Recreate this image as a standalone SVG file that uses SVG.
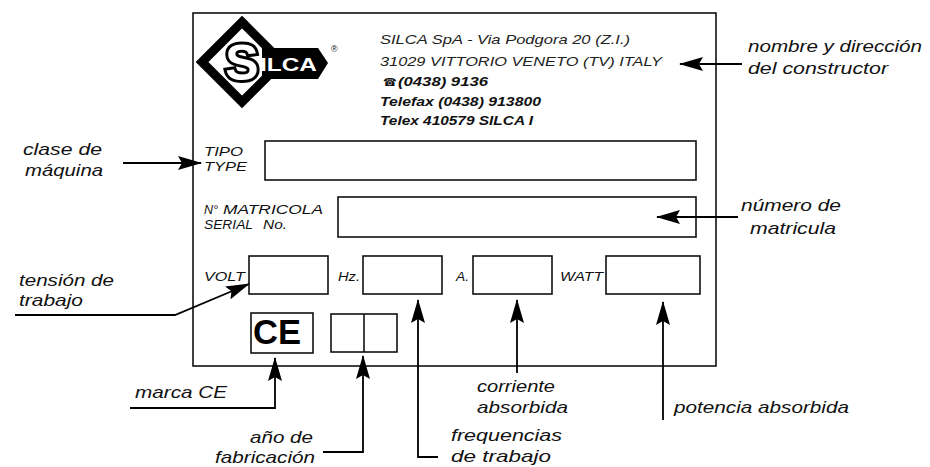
<svg xmlns="http://www.w3.org/2000/svg" width="930" height="467" viewBox="0 0 930 467">
<style>
text{font-family:"Liberation Sans",Arial,sans-serif;font-style:italic;fill:#111}
.lbl{font-size:17px}
.sm{font-size:12.5px}
.hd{font-size:13.5px}
.b{font-weight:bold}
.box{fill:none;stroke:#111;stroke-width:1.6}
.con{fill:none;stroke:#000;stroke-width:1.8}
</style>
<defs>
<marker id="ah" viewBox="0 0 24 14" refX="23" refY="7" markerWidth="24" markerHeight="14" markerUnits="userSpaceOnUse" orient="auto">
<path d="M0,0 L24,7 L0,14 L4,7 Z" fill="#000"/>
</marker>
</defs>
<rect width="930" height="467" fill="#fff"/>

<g id="plate">
<rect class="box" x="193" y="13" width="523" height="353"/>
</g>

<g id="logo">
<path d="M242,22 L282,62 L242,102 L202,62 Z" fill="#fff" stroke="#000" stroke-width="9" stroke-linejoin="miter"/>
<path d="M262,48 L318,48 L328,63 L318,79 L262,79 Z" fill="#000"/>
<text x="242" y="80" text-anchor="middle" style="font-style:normal;font-weight:bold;font-size:50px;fill:#fff;stroke:#000;stroke-width:6;paint-order:stroke">S</text>
<text x="260" y="71" textLength="57" lengthAdjust="spacingAndGlyphs" style="font-style:normal;font-weight:bold;font-size:19px;fill:#fff">ILCA</text>
<text x="331" y="52" style="font-style:normal;font-size:9px">®</text>
</g>

<g id="maker">
<text class="hd" x="380" y="44" textLength="250" lengthAdjust="spacingAndGlyphs" style="fill:#222">SILCA SpA - Via Podgora 20 (Z.I.)</text>
<text class="hd" x="380" y="66" textLength="282" lengthAdjust="spacingAndGlyphs" style="fill:#222">31029 VITTORIO VENETO (TV) ITALY</text>
<text x="383" y="86" style="font-family:'DejaVu Sans',sans-serif;font-style:normal;font-size:11px">☎</text>
<text class="hd b" x="398" y="86" textLength="90" lengthAdjust="spacingAndGlyphs">(0438) 9136</text>
<text class="hd b" x="380" y="106" textLength="161" lengthAdjust="spacingAndGlyphs">Telefax (0438) 913800</text>
<text class="hd b" x="380" y="125" textLength="153" lengthAdjust="spacingAndGlyphs">Telex 410579 SILCA I</text>
</g>

<g id="tipo">
<text class="sm" x="204" y="156" textLength="39" lengthAdjust="spacingAndGlyphs">TIPO</text>
<text class="sm" x="204" y="171" textLength="43" lengthAdjust="spacingAndGlyphs">TYPE</text>
<rect class="box" x="265" y="141" width="431" height="39"/>
</g>

<g id="matricola">
<text class="sm" x="204" y="214"><tspan x="204">N°</tspan><tspan x="223" textLength="100" lengthAdjust="spacingAndGlyphs">MATRICOLA</tspan></text>
<text class="sm" x="204" y="229"><tspan x="204" textLength="49" lengthAdjust="spacingAndGlyphs">SERIAL</tspan><tspan x="263" textLength="24" lengthAdjust="spacingAndGlyphs">No.</tspan></text>
<rect class="box" x="338" y="197" width="358" height="40"/>
</g>

<g id="volt">
<text class="sm" x="204" y="281" textLength="41" lengthAdjust="spacingAndGlyphs">VOLT</text>
<rect class="box" x="249" y="256" width="79" height="38"/>
</g>
<g id="hz">
<text class="sm" x="338" y="281" textLength="22" lengthAdjust="spacingAndGlyphs">Hz.</text>
<rect class="box" x="363" y="256" width="79" height="38"/>
</g>
<g id="amp">
<text class="sm" x="456" y="281" textLength="13" lengthAdjust="spacingAndGlyphs">A.</text>
<rect class="box" x="473" y="256" width="79" height="38"/>
</g>
<g id="watt">
<text class="sm" x="560" y="281" textLength="43" lengthAdjust="spacingAndGlyphs">WATT</text>
<rect class="box" x="606" y="256" width="94" height="38"/>
</g>

<g id="ce">
<rect class="box" x="251" y="313" width="62" height="40"/>
<text x="253" y="344" textLength="48" lengthAdjust="spacingAndGlyphs" style="font-style:normal;font-weight:bold;font-size:35px;fill:#000">CE</text>
</g>
<g id="year">
<rect class="box" x="331" y="314" width="66" height="38"/>
<line class="box" x1="364" y1="314" x2="364" y2="352"/>
</g>

<g id="labels">
<text class="lbl" x="748" y="52" textLength="174" lengthAdjust="spacingAndGlyphs">nombre y dirección</text>
<text class="lbl" x="748" y="74" textLength="140" lengthAdjust="spacingAndGlyphs">del constructor</text>
<text class="lbl" x="23" y="155" textLength="79" lengthAdjust="spacingAndGlyphs">clase de</text>
<text class="lbl" x="25" y="176" textLength="78" lengthAdjust="spacingAndGlyphs">máquina</text>
<text class="lbl" x="741" y="211" textLength="100" lengthAdjust="spacingAndGlyphs">número de</text>
<text class="lbl" x="750" y="234" textLength="86" lengthAdjust="spacingAndGlyphs">matricula</text>
<text class="lbl" x="19" y="286" textLength="95" lengthAdjust="spacingAndGlyphs">tensión de</text>
<text class="lbl" x="19" y="306" textLength="64" lengthAdjust="spacingAndGlyphs">trabajo</text>
<text class="lbl" x="135" y="398" textLength="92" lengthAdjust="spacingAndGlyphs">marca CE</text>
<text class="lbl" x="250" y="443" textLength="63" lengthAdjust="spacingAndGlyphs">año de</text>
<text class="lbl" x="215" y="463" textLength="100" lengthAdjust="spacingAndGlyphs">fabricación</text>
<text class="lbl" x="451" y="441" textLength="111" lengthAdjust="spacingAndGlyphs">frequencias</text>
<text class="lbl" x="451" y="462" textLength="100" lengthAdjust="spacingAndGlyphs">de trabajo</text>
<text class="lbl" x="477" y="392" textLength="78" lengthAdjust="spacingAndGlyphs">corriente</text>
<text class="lbl" x="477" y="413" textLength="91" lengthAdjust="spacingAndGlyphs">absorbida</text>
<text class="lbl" x="674" y="413" textLength="175" lengthAdjust="spacingAndGlyphs">potencia absorbida</text>
</g>

<g id="connectors">
<path class="con" d="M742,64 L680,64" marker-end="url(#ah)"/>
<path class="con" d="M123,163 L201,163" marker-end="url(#ah)"/>
<path class="con" d="M738,217 L657,217" marker-end="url(#ah)"/>
<path class="con" d="M15,315 L175,315 L249,284" marker-end="url(#ah)"/>
<path class="con" d="M438,457 L418,457 L418,300" marker-end="url(#ah)"/>
<path class="con" d="M517,373 L517,300" marker-end="url(#ah)"/>
<path class="con" d="M663,420 L663,302" marker-end="url(#ah)"/>
<path class="con" d="M130,408 L275,408 L275,358" marker-end="url(#ah)"/>
<path class="con" d="M323,452 L363,452 L363,356" marker-end="url(#ah)"/>
</g>
</svg>
